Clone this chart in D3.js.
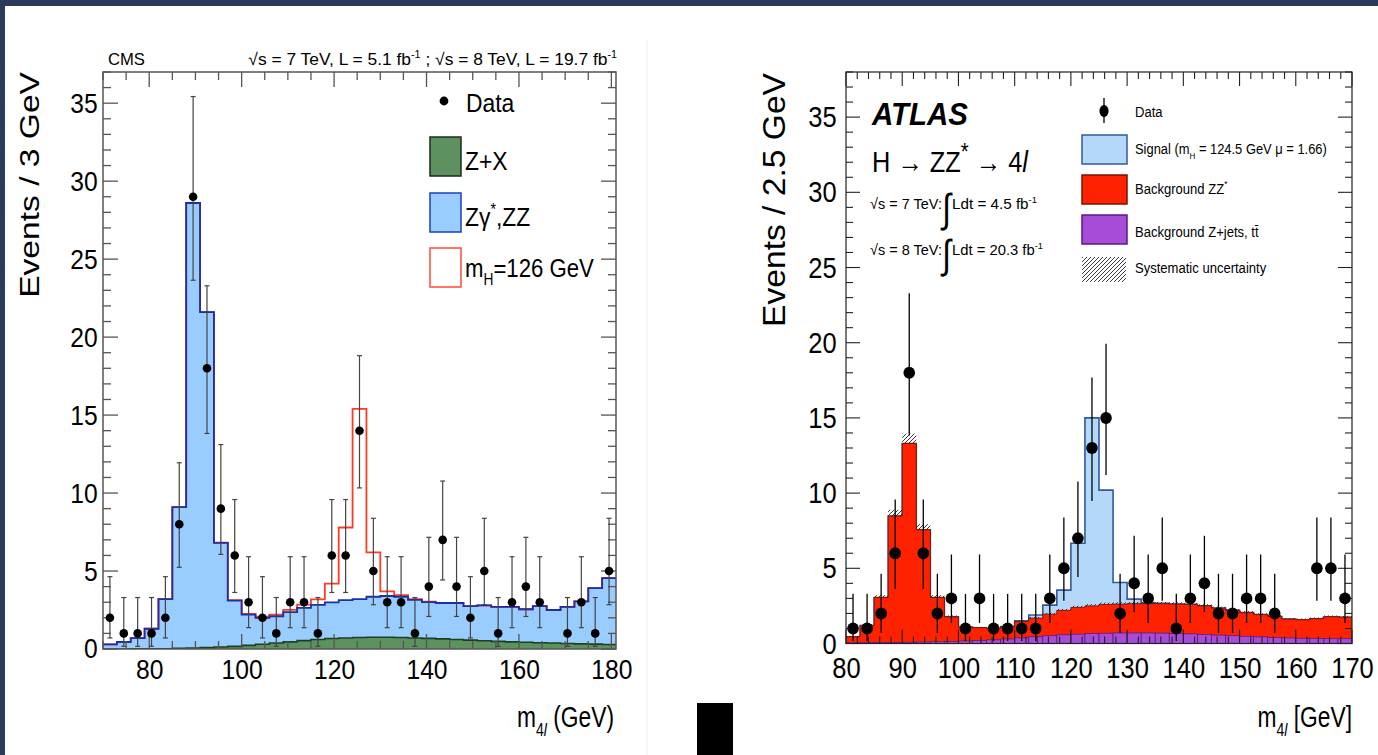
<!DOCTYPE html>
<html><head><meta charset="utf-8">
<script src="https://cdn.jsdelivr.net/npm/d3@7"></script>
<style>
html,body{margin:0;padding:0;background:#fff;}
svg{display:block;}
text{font-family:"Liberation Sans",Arial,Helvetica,sans-serif;}
</style>
</head><body>
<svg id="c" width="1378" height="755"></svg>
<script>
// ---------------- DATA ----------------
// CMS: 3 GeV bins from 70 to 181 GeV
const cmsBinLow = 70, cmsBinWidth = 3;
const cmsData  = [2,1,1,1,2,8,29,18,9,6, 3,2,1,3,3,1,6,6,14,5, 3,3,1,4,7,4,2,5,1,3, 4,3,0,1,3,1,5];
const cmsZX    = [0.0,0.0,0.01,0.01,0.02,0.04,0.06,0.09,0.13,0.17, 0.23,0.3,0.38,0.46,0.54,0.61,0.67,0.71,0.74,0.75, 0.75,0.74,0.71,0.68,0.65,0.61,0.57,0.53,0.49,0.46, 0.43,0.4,0.38,0.35,0.33,0.31,0.29];
const cmsZZ    = [0.3,0.45,0.69,1.29,3.18,9.06,28.54,21.51,6.67,2.93, 1.97,1.7,1.72,1.9,2.1,2.22,2.32,2.43,2.46,2.6, 2.65,2.61,2.44,2.32,2.3,2.34,2.18,2.27,2.21,2.24, 2.12,2.35,2.12,2.35,2.72,3.59,4.26];
const cmsHiggs = [0,0,0,0,0,0,0,0,0.02,0.03, 0.05,0.07,0.1,0.15,0.2,0.35,1.2,4.65,12.2,2.85, 0.3,0.1,0.05,0.03,0,0,0,0,0,0, 0,0,0,0,0,0,0];
const cmsXTicks = [80,100,120,140,160,180];
const cmsYTicks = [0,5,10,15,20,25,30,35];

// ATLAS: 2.5 GeV bins from 80 to 170 GeV
const atlasBinLow = 80, atlasBinWidth = 2.5;
const atlasData   = [1,1,2,6,18,6,2,3,1,3, 1,1,1,1,3,5,7,13,15,2, 4,3,5,1,3,4,2,2,3,3, 2,0,0,5,5,3];
const atlasZjets  = [0.05,0.05,0.06,0.07,0.08,0.1,0.12,0.14,0.17,0.2, 0.25,0.3,0.38,0.45,0.52,0.58,0.62,0.66,0.68,0.7, 0.7,0.7,0.69,0.67,0.64,0.6,0.56,0.52,0.48,0.44, 0.4,0.37,0.35,0.33,0.32,0.32];
const atlasZZ     = [0.4,1.15,3.0,8.4,13.22,7.46,2.94,1.63,0.93,0.85, 0.75,0.8,1.08,1.23,1.43,1.62,1.78,1.84,1.92,1.92, 1.95,1.95,1.96,1.95,1.96,1.9,1.79,1.68,1.57,1.48, 1.4,1.25,1.23,1.32,1.46,1.43];
const atlasSignal = [0,0,0,0,0,0,0,0,0,0, 0,0.02,0.05,0.22,0.6,1.35,4.27,12.5,7.6,1.44, 0.3,0.05,0.02,0,0,0,0,0,0,0, 0,0,0,0,0,0];
const atlasSyst   = [0.03,0.07,0.15,0.42,0.65,0.38,0.15,0.09,0.07,0.06, 0.06,0.06,0.07,0.08,0.09,0.1,0.11,0.12,0.12,0.12, 0.12,0.12,0.12,0.12,0.12,0.11,0.11,0.1,0.1,0.09, 0.09,0.08,0.08,0.08,0.08,0.08];
const atlasXTicks = [80,90,100,110,120,130,140,150,160,170];
const atlasYTicks = [0,5,10,15,20,25,30,35];

// Poisson (Garwood 68%) interval half-widths by observed count
const poissonLo = {1:0.827,2:1.292,3:1.633,4:1.914,5:2.159,6:2.375,7:2.574,8:2.759,9:2.932,13:3.532,14:3.671,15:3.804,18:4.178,29:5.353};
const poissonHi = {1:2.300,2:2.638,3:2.918,4:3.162,5:3.382,6:3.583,7:3.770,8:3.944,9:4.110,13:4.683,14:4.811,15:4.935,18:5.289,29:6.426};

// ---------------- HELPERS ----------------
const svg = d3.select('#c');

function rich(parent, x, y, size, parts, o = {}) {
  const g = parent.append('g');
  const t = g.append('text').attr('font-size', size).attr('text-anchor', o.anchor || 'start').attr('fill', '#000');
  if (o.weight) t.attr('font-weight', o.weight);
  if (o.style) t.attr('font-style', o.style);
  if (o.family) t.attr('font-family', o.family);
  let shift = 0;
  parts.forEach(p => {
    if (typeof p === 'string') p = {t: p};
    const target = p.sub ? size * 0.3 : p.sup ? -size * 0.42 : 0;
    const ts = t.append('tspan').text(p.t).attr('dy', target - shift);
    shift = target;
    if (p.sub || p.sup) ts.attr('font-size', size * (p.scale || 0.62));
    if (p.italic) ts.attr('font-style', 'italic');
  });
  let sx = o.sx || 1;
  if (o.width) sx = o.width / t.node().getComputedTextLength();
  let tr = `translate(${x},${y})`;
  if (o.rotate) tr += ` rotate(${o.rotate})`;
  tr += ` scale(${sx},${o.sy || 1})`;
  g.attr('transform', tr);
  return g;
}

function stepPts(lo, w, vals) {
  const pts = vals.map((v, i) => [lo + i * w, v]);
  pts.push([lo + vals.length * w, vals[vals.length - 1]]);
  return pts;
}

function drawAxes(g, x, y, o) {
  const [x0, x1] = x.range(), [y0, y1] = y.range();
  const ticks = g.append('g').attr('stroke', o.tickColor).attr('stroke-width', o.tickWidth);
  const xd = x.domain(), yd = y.domain();
  const xMinor = d3.range(Math.ceil(xd[0] / o.xMinor) * o.xMinor, xd[1] + 1e-9, o.xMinor);
  const yMinor = d3.range(0, yd[1] + 1e-9, o.yMinor);
  xMinor.forEach(v => {
    const isMaj = Math.abs(v / o.xMajor - Math.round(v / o.xMajor)) < 1e-6;
    const L = isMaj ? o.majLen : o.minLen;
    ticks.append('line').attr('x1', x(v)).attr('x2', x(v)).attr('y1', y0).attr('y2', y0 - L);
    ticks.append('line').attr('x1', x(v)).attr('x2', x(v)).attr('y1', y1).attr('y2', y1 + L);
  });
  yMinor.forEach(v => {
    const isMaj = Math.abs(v / o.yMajor - Math.round(v / o.yMajor)) < 1e-6;
    const L = isMaj ? o.majLen : o.minLen;
    ticks.append('line').attr('x1', x0).attr('x2', x0 + L).attr('y1', y(v)).attr('y2', y(v));
    ticks.append('line').attr('x1', x1).attr('x2', x1 - L).attr('y1', y(v)).attr('y2', y(v));
  });
  g.append('rect').attr('x', x0).attr('y', y1).attr('width', x1 - x0).attr('height', y0 - y1)
    .attr('fill', 'none').attr('stroke', o.frameColor).attr('stroke-width', o.frameWidth);
  const ax = g.append('g').attr('transform', `translate(0,${y0})`)
    .call(d3.axisBottom(x).tickValues(o.xTicks).tickSize(0).tickPadding(o.xPad));
  ax.select('.domain').remove();
  ax.selectAll('text').attr('font-size', o.labelSize).attr('fill', '#000')
    .attr('font-family', '"Liberation Sans",Arial,sans-serif')
    .attr('transform', `scale(${o.labelSx},1)`);
  const ay = g.append('g').attr('transform', `translate(${x0},0)`)
    .call(d3.axisLeft(y).tickValues(o.yTicks).tickSize(0).tickPadding(o.yPad));
  ay.select('.domain').remove();
  ay.selectAll('text').attr('font-size', o.labelSize).attr('fill', '#000')
    .attr('font-family', '"Liberation Sans",Arial,sans-serif')
    .attr('transform', `scale(${o.labelSx},1)`);
}

function drawData(g, x, y, lo, w, data, o) {
  const pts = data.map((n, i) => ({c: lo + (i + 0.5) * w, n})).filter(d => d.n > 0);
  const eb = g.append('g').attr('stroke', o.barColor).attr('stroke-width', o.barWidth);
  pts.forEach(d => {
    const yt = y(d.n + poissonHi[d.n]), yb = y(d.n - poissonLo[d.n]);
    eb.append('line').attr('x1', x(d.c)).attr('x2', x(d.c)).attr('y1', yt).attr('y2', yb);
    if (o.cap) {
      eb.append('line').attr('x1', x(d.c) - o.cap).attr('x2', x(d.c) + o.cap).attr('y1', yt).attr('y2', yt);
      eb.append('line').attr('x1', x(d.c) - o.cap).attr('x2', x(d.c) + o.cap).attr('y1', yb).attr('y2', yb);
    }
  });
  g.append('g').selectAll('ellipse').data(pts).join('ellipse')
    .attr('cx', d => x(d.c)).attr('cy', d => y(d.n)).attr('rx', o.rx).attr('ry', o.ry).attr('fill', '#000');
}

// ---------------- BACKGROUND FRAME ----------------
svg.append('rect').attr('width', 1378).attr('height', 755).attr('fill', '#fff');
svg.append('line').attr('x1', 647).attr('x2', 647).attr('y1', 40).attr('y2', 755).attr('stroke', '#efefef');
svg.append('rect').attr('x', 0).attr('y', 0).attr('width', 1378).attr('height', 6).attr('fill', '#2a3a5c');
svg.append('rect').attr('x', 0).attr('y', 0).attr('width', 5).attr('height', 755).attr('fill', '#2a3a5c');
svg.append('rect').attr('x', 697).attr('y', 703).attr('width', 36).attr('height', 52).attr('fill', '#000');

const defs = svg.append('defs');
const pat = defs.append('pattern').attr('id', 'hatch').attr('patternUnits', 'userSpaceOnUse')
  .attr('width', 4).attr('height', 4);
pat.append('path').attr('d', 'M-1,1 L1,-1 M0,4 L4,0 M3,5 L5,3').attr('stroke', '#222').attr('stroke-width', 0.9);

// ---------------- CMS PANEL ----------------
const xC = d3.scaleLinear().domain([70, 181]).range([103, 616]);
const yC = d3.scaleLinear().domain([0, 37]).range([649, 72]);
const gC = svg.append('g');
defs.append('clipPath').attr('id', 'clipC').append('rect')
  .attr('x', 103).attr('y', 72).attr('width', 513).attr('height', 577);
const hC = gC.append('g').attr('clip-path', 'url(#clipC)');

const cmsBkg = cmsZZ.map((v, i) => v + cmsZX[i]);
const cmsTot = cmsBkg.map((v, i) => v + cmsHiggs[i]);
const areaC = d3.area().curve(d3.curveStepAfter).x(d => xC(d[0])).y0(yC(0)).y1(d => yC(d[1]));
const lineC = d3.line().curve(d3.curveStepAfter).x(d => xC(d[0])).y(d => yC(d[1]));

hC.append('path').attr('d', areaC(stepPts(cmsBinLow, cmsBinWidth, cmsBkg))).attr('fill', '#99ccff');
hC.append('path').attr('d', areaC(stepPts(cmsBinLow, cmsBinWidth, cmsZX))).attr('fill', '#5e9160');
hC.append('path').attr('d', lineC(stepPts(cmsBinLow, cmsBinWidth, cmsZX))).attr('fill', 'none')
  .attr('stroke', '#1c401c').attr('stroke-width', 1.6);
hC.append('path').attr('d', lineC(stepPts(cmsBinLow, cmsBinWidth, cmsTot))).attr('fill', 'none')
  .attr('stroke', '#ff3a25').attr('stroke-width', 1.8);
hC.append('path').attr('d', lineC(stepPts(cmsBinLow, cmsBinWidth, cmsBkg))).attr('fill', 'none')
  .attr('stroke', '#1c2fa3').attr('stroke-width', 1.8);

drawAxes(gC, xC, yC, {tickColor: '#555', tickWidth: 1.3, frameColor: '#555', frameWidth: 1.5,
  xMinor: 5, xMajor: 20, yMinor: 1, yMajor: 5, majLen: 15, minLen: 8,
  xTicks: cmsXTicks, yTicks: cmsYTicks, labelSize: 28, labelSx: 0.88, xPad: 10, yPad: 6});
drawData(gC, xC, yC, cmsBinLow, cmsBinWidth, cmsData, {barColor: '#444', barWidth: 1.2, cap: 2.5, rx: 4.3, ry: 4.3});

// CMS texts
rich(gC, 108, 65, 17, ['CMS'], {width: 37});
rich(gC, 617, 65, 17, ['√s = 7 TeV, L = 5.1 fb', {t: '-1', sup: true}, ' ; √s = 8 TeV, L = 19.7 fb', {t: '-1', sup: true}], {anchor: 'end', width: 369});
rich(gC, 39, 72, 28, ['Events / 3 GeV'], {anchor: 'end', rotate: -90, width: 226});
rich(gC, 614, 727, 30, ['m', {t: '4', sub: true}, {t: 'l', sub: true, italic: true}, ' (GeV)'], {anchor: 'end', sx: 0.76});

// CMS legend
const lgC = gC.append('g');
lgC.append('circle').attr('cx', 444).attr('cy', 101).attr('r', 4.4).attr('fill', '#000');
rich(lgC, 466, 112, 26, ['Data'], {sx: 0.88});
lgC.append('rect').attr('x', 430).attr('y', 137).attr('width', 31).attr('height', 39)
  .attr('fill', '#5e9160').attr('stroke', '#1c2a1c').attr('stroke-width', 1.5);
rich(lgC, 465, 170, 26, ['Z+X'], {sx: 0.88});
lgC.append('rect').attr('x', 430).attr('y', 193).attr('width', 31).attr('height', 39)
  .attr('fill', '#99ccff').attr('stroke', '#1c3fbf').attr('stroke-width', 1.5);
rich(lgC, 465, 226, 26, ['Zγ', {t: '*', sup: true}, ',ZZ'], {sx: 0.88});
lgC.append('rect').attr('x', 430).attr('y', 248).attr('width', 31).attr('height', 39)
  .attr('fill', '#fff').attr('stroke', '#ff4a38').attr('stroke-width', 1.5);
rich(lgC, 465, 277, 26, ['m', {t: 'H', sub: true}, '=126 GeV'], {width: 129});

// ---------------- ATLAS PANEL ----------------
const xA = d3.scaleLinear().domain([80, 170]).range([846, 1352]);
const yA = d3.scaleLinear().domain([0, 38]).range([643.5, 72]);
const gA = svg.append('g');
defs.append('clipPath').attr('id', 'clipA').append('rect')
  .attr('x', 846).attr('y', 72).attr('width', 506).attr('height', 571.5);
const hA = gA.append('g').attr('clip-path', 'url(#clipA)');

const atlasBkg = atlasZZ.map((v, i) => v + atlasZjets[i]);
const atlasTot = atlasBkg.map((v, i) => v + atlasSignal[i]);
const areaA = d3.area().curve(d3.curveStepAfter).x(d => xA(d[0])).y0(yA(0)).y1(d => yA(d[1]));
const lineA = d3.line().curve(d3.curveStepAfter).x(d => xA(d[0])).y(d => yA(d[1]));

hA.append('path').attr('d', areaA(stepPts(atlasBinLow, atlasBinWidth, atlasTot))).attr('fill', '#b4d8fa');
hA.append('path').attr('d', lineA(stepPts(atlasBinLow, atlasBinWidth, atlasTot))).attr('fill', 'none')
  .attr('stroke', '#34589a').attr('stroke-width', 1.6);
hA.append('g').selectAll('rect').data(atlasBkg).join('rect')
  .attr('x', (d, i) => xA(atlasBinLow + i * atlasBinWidth))
  .attr('width', xA(atlasBinLow + atlasBinWidth) - xA(atlasBinLow))
  .attr('y', (d, i) => yA(d + atlasSyst[i]))
  .attr('height', (d, i) => yA(d - atlasSyst[i]) - yA(d + atlasSyst[i]))
  .attr('fill', 'url(#hatch)');
hA.append('path').attr('d', areaA(stepPts(atlasBinLow, atlasBinWidth, atlasBkg))).attr('fill', '#ff2200');
hA.append('path').attr('d', lineA(stepPts(atlasBinLow, atlasBinWidth, atlasBkg))).attr('fill', 'none')
  .attr('stroke', '#7a1200').attr('stroke-width', 0.9);
hA.append('g').selectAll('rect').data(atlasZjets).join('rect')
  .attr('x', (d, i) => xA(atlasBinLow + i * atlasBinWidth))
  .attr('width', xA(atlasBinLow + atlasBinWidth) - xA(atlasBinLow))
  .attr('y', d => yA(d)).attr('height', d => yA(0) - yA(d))
  .attr('fill', '#a64cd8').attr('stroke', '#5a1a82').attr('stroke-width', 0.8);

drawAxes(gA, xA, yA, {tickColor: '#222', tickWidth: 1.1, frameColor: '#222', frameWidth: 1.2,
  xMinor: 2, xMajor: 10, yMinor: 1, yMajor: 5, majLen: 14, minLen: 7,
  xTicks: atlasXTicks, yTicks: atlasYTicks, labelSize: 30, labelSx: 0.85, xPad: 13, yPad: 11});
drawData(gA, xA, yA, atlasBinLow, atlasBinWidth, atlasData, {barColor: '#000', barWidth: 1.3, cap: 0, rx: 5.8, ry: 6});

// ATLAS texts
rich(gA, 785, 73, 31, ['Events / 2.5 GeV'], {anchor: 'end', rotate: -90, width: 254});
rich(gA, 1352, 727, 30, ['m', {t: '4', sub: true}, {t: 'l', sub: true, italic: true}, ' [GeV]'], {anchor: 'end', sx: 0.76});
rich(gA, 872, 125, 31, ['ATLAS'], {weight: 'bold', style: 'italic', width: 96});
rich(gA, 872, 172, 29, ['H → ZZ', {t: '*', sup: true, scale: 0.8}, ' → 4', {t: 'l', italic: true}], {width: 156});
rich(gA, 870, 209, 15, ['√s = 7 TeV:'], {width: 72});
rich(gA, 870, 255, 15, ['√s = 8 TeV:'], {width: 72});
rich(gA, 942, 222, 40, ['∫'], {family: '"DejaVu Sans"', sx: 0.8});
rich(gA, 942, 268, 40, ['∫'], {family: '"DejaVu Sans"', sx: 0.8});
rich(gA, 952, 209, 15, ['Ldt = 4.5 fb', {t: '-1', sup: true}], {width: 85});
rich(gA, 952, 255, 15, ['Ldt = 20.3 fb', {t: '-1', sup: true}], {width: 91});

// ATLAS legend
const lgA = gA.append('g');
lgA.append('line').attr('x1', 1104).attr('x2', 1104).attr('y1', 98).attr('y2', 123).attr('stroke', '#000').attr('stroke-width', 1.3);
lgA.append('ellipse').attr('cx', 1104).attr('cy', 111).attr('rx', 4.6).attr('ry', 6).attr('fill', '#000');
rich(lgA, 1135, 116.5, 15, ['Data'], {sx: 0.87});
lgA.append('rect').attr('x', 1082).attr('y', 135).attr('width', 45).attr('height', 29)
  .attr('fill', '#b4d8fa').attr('stroke', '#34589a').attr('stroke-width', 1.5);
rich(lgA, 1135, 154, 15, ['Signal (m', {t: 'H', sub: true}, ' = 124.5 GeV μ = 1.66)'], {width: 192});
lgA.append('rect').attr('x', 1082).attr('y', 175).attr('width', 45).attr('height', 29)
  .attr('fill', '#ff2200').attr('stroke', '#7a1200').attr('stroke-width', 1.5);
rich(lgA, 1135, 193.5, 15, ['Background ZZ', {t: '*', sup: true}], {sx: 0.87});
lgA.append('rect').attr('x', 1082).attr('y', 215).attr('width', 45).attr('height', 29)
  .attr('fill', '#a64cd8').attr('stroke', '#5a1a82').attr('stroke-width', 1.5);
rich(lgA, 1135, 236.5, 15, ['Background Z+jets, tt\u0304'], {sx: 0.87});
lgA.append('rect').attr('x', 1082).attr('y', 257).attr('width', 44).attr('height', 25).attr('fill', 'url(#hatch)');
rich(lgA, 1135, 273, 15, ['Systematic uncertainty'], {sx: 0.87});
</script>
</body></html>
